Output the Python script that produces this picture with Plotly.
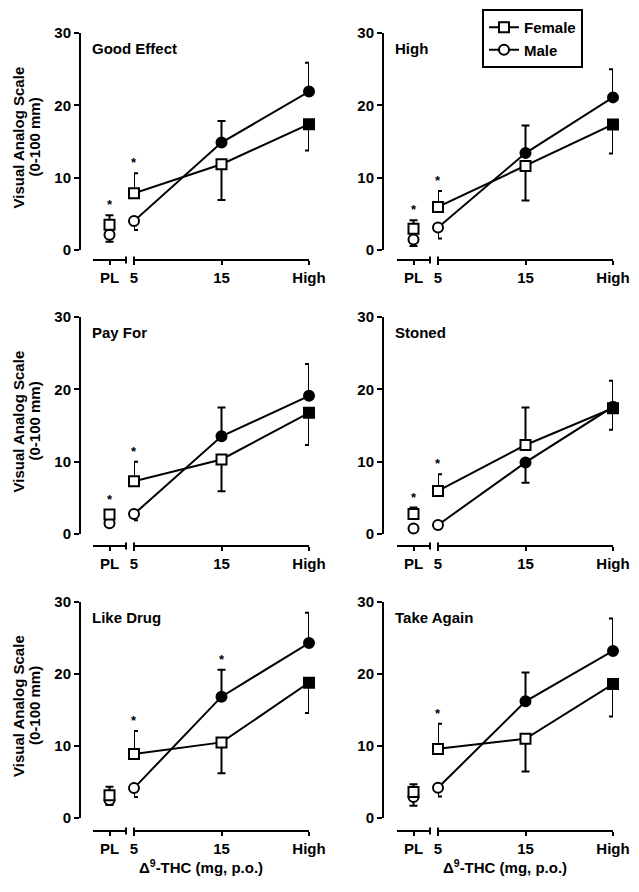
import plotly.graph_objects as go

W, H = 639, 892
FONT = "Liberation Sans, Arial, sans-serif"

# ---------------- data ----------------
dose_labels = ["PL", "5", "15", "High"]
panel_titles = ["Good Effect", "High", "Pay For", "Stoned", "Like Drug", "Take Again"]

# means and SEM, order: PL, 5, 15, High
good_effect_f = [3.5, 7.85, 11.85, 17.4]
good_effect_f_sem = [1.3, 2.75, 4.95, 3.65]
good_effect_m = [2.1, 4.0, 14.85, 21.9]
good_effect_m_sem = [0.95, 1.25, 3.0, 4.0]

high_f = [2.95, 5.95, 11.6, 17.35]
high_f_sem = [1.15, 2.2, 4.75, 4.0]
high_m = [1.45, 3.1, 13.4, 21.1]
high_m_sem = [0.9, 1.5, 3.8, 3.9]

pay_for_f = [2.7, 7.3, 10.3, 16.75]
pay_for_f_sem = [0.6, 2.7, 4.4, 4.45]
pay_for_m = [1.5, 2.75, 13.5, 19.1]
pay_for_m_sem = [0.4, 0.85, 4.0, 4.4]

stoned_f = [2.75, 5.95, 12.3, 17.4]
stoned_f_sem = [0.9, 2.3, 5.2, 3.0]
stoned_m = [0.75, 1.25, 9.9, 17.6]
stoned_m_sem = [0.3, 0.4, 2.8, 3.6]

like_drug_f = [3.15, 8.9, 10.5, 18.8]
like_drug_f_sem = [1.2, 3.2, 4.3, 4.2]
like_drug_m = [2.5, 4.15, 16.85, 24.3]
like_drug_m_sem = [0.7, 1.25, 3.75, 4.2]

take_again_f = [3.6, 9.6, 11.0, 18.6]
take_again_f_sem = [1.1, 3.5, 4.55, 4.5]
take_again_m = [2.9, 4.2, 16.2, 23.2]
take_again_m_sem = [1.2, 1.2, 4.0, 4.5]

# significance asterisks (female vs male) per panel
good_effect_sig = ["PL", "5"]
high_sig = ["PL", "5"]
pay_for_sig = ["PL", "5"]
stoned_sig = ["PL", "5"]
like_drug_sig = ["5", "15"]
take_again_sig = ["5"]

# filled symbol = significantly different from placebo
female_filled = [False, False, False, True]
male_filled = [False, False, True, True]

panels = [
    (good_effect_f, good_effect_f_sem, good_effect_m, good_effect_m_sem, good_effect_sig),
    (high_f, high_f_sem, high_m, high_m_sem, high_sig),
    (pay_for_f, pay_for_f_sem, pay_for_m, pay_for_m_sem, pay_for_sig),
    (stoned_f, stoned_f_sem, stoned_m, stoned_m_sem, stoned_sig),
    (like_drug_f, like_drug_f_sem, like_drug_m, like_drug_m_sem, like_drug_sig),
    (take_again_f, take_again_f_sem, take_again_m, take_again_m_sem, take_again_sig),
]

# ---------------- geometry (pixels) ----------------
col_yaxis = [80, 383]
col_pl = [(93, 126), (397, 430)]
col_main = [(134, 309), (438, 613)]
row_top = [33, 317, 602]
row_bot = [250, 534, 818]
row_xline = [260, 546, 831]

fig = go.Figure()
layout = {}
annotations = []
shapes = []

tickfont = dict(family=FONT, size=15, color="black", weight="bold")
axis_common = dict(showline=True, linecolor="black", linewidth=2, ticks="outside",
                   tickwidth=2, tickcolor="black", showgrid=False, zeroline=False,
                   tickfont=tickfont, fixedrange=True, automargin=False)

def px(x):
    return x / W

def py(y):
    return 1 - y / H

for i, (fm, fs, mm, ms, sig) in enumerate(panels):
    r, c = divmod(i, 2)
    yid = i + 1
    xm_id = 2 * i + 1
    xp_id = 2 * i + 2
    ysfx = "" if yid == 1 else str(yid)
    xmsfx = "" if xm_id == 1 else str(xm_id)
    xpsfx = str(xp_id)

    layout["yaxis" + ysfx] = dict(domain=[py(row_bot[r]), py(row_top[r])], range=[0, 30],
                                  anchor="free", position=px(col_yaxis[c]),
                                  tickvals=[0, 10, 20, 30], ticklen=5, **axis_common)
    layout["xaxis" + xmsfx] = dict(domain=[px(col_main[c][0]), px(col_main[c][1])], range=[0, 2],
                                   anchor="free", position=py(row_xline[r]),
                                   tickvals=[0, 1, 2], ticktext=dose_labels[1:], ticklen=4,
                                   **axis_common)
    layout["xaxis" + xpsfx] = dict(domain=[px(col_pl[c][0]), px(col_pl[c][1])], range=[-1, 1],
                                   anchor="free", position=py(row_xline[r]),
                                   tickvals=[0], ticktext=dose_labels[:1], ticklen=4,
                                   **axis_common)

    # error direction: higher series gets the upper bar
    f_up = [s if f >= m else 0 for f, m, s in zip(fm, mm, fs)]
    f_dn = [0 if f >= m else s for f, m, s in zip(fm, mm, fs)]
    m_up = [s if m > f else 0 for f, m, s in zip(fm, mm, ms)]
    m_dn = [0 if m > f else s for f, m, s in zip(fm, mm, ms)]

    series = [
        ("Male", "circle", mm, m_up, m_dn, male_filled, 2),
        ("Female", "square", fm, f_up, f_dn, female_filled, 1),
    ]
    for name, sym, vals, up, dn, filled, rank in series:
        colors = ["black" if f else "white" for f in filled]
        common = dict(mode="lines+markers", cliponaxis=False,
                      line=dict(color="black", width=2),
                      yaxis="y" + ysfx, name=name)
        # main doses
        fig.add_trace(go.Scatter(
            x=[0, 1, 2], y=vals[1:],
            error_y=dict(type="data", symmetric=False, array=up[1:], arrayminus=dn[1:],
                         color="black", thickness=2, width=4),
            marker=dict(symbol=sym, size=10, color=colors[1:], line=dict(color="black", width=2)),
            xaxis="x" + xmsfx, showlegend=(i == 0), legendrank=rank, **common))
        # placebo
        fig.add_trace(go.Scatter(
            x=[0], y=vals[:1],
            error_y=dict(type="data", symmetric=False, array=up[:1], arrayminus=dn[:1],
                         color="black", thickness=2, width=4),
            marker=dict(symbol=sym, size=10, color=colors[:1], line=dict(color="black", width=2)),
            xaxis="x" + xpsfx, showlegend=False, **common))

    # asterisks
    for d in sig:
        k = dose_labels.index(d)
        top = max(fm[k] + f_up[k], mm[k] + m_up[k])
        if k == 0:
            xref, xv = "x" + xpsfx, 0
        else:
            xref, xv = "x" + xmsfx, k - 1
        annotations.append(dict(x=xv, y=top, xref=xref, yref="y" + ysfx, text="*",
                                showarrow=False, yanchor="bottom", yshift=1,
                                font=dict(family=FONT, size=13, color="black", weight="bold")))

    # panel title
    annotations.append(dict(x=px(col_yaxis[c] + 10), y=1 - 15 / (row_bot[r] - row_top[r]),
                            xref="paper", yref="y" + ysfx + " domain", text=panel_titles[i],
                            showarrow=False, xanchor="left", yanchor="middle",
                            font=dict(family=FONT, size=15, color="black", weight="bold")))

    # axis break caps
    for xcap in (col_pl[c][1], col_main[c][0]):
        shapes.append(dict(type="line", xref="paper", yref="paper",
                           x0=px(xcap), x1=px(xcap),
                           y0=py(row_xline[r] + 3.5), y1=py(row_xline[r] - 3.5),
                           line=dict(color="black", width=2)))

    # y title for left column
    if c == 0:
        ymid = (row_top[r] + row_bot[r]) / 2 - 4
        annotations.append(dict(x=px(18), y=py(ymid), xref="paper", yref="paper",
                                text="Visual Analog Scale", textangle=-90, showarrow=False,
                                xanchor="center", yanchor="middle",
                                font=dict(family=FONT, size=15, color="black", weight="bold")))
        annotations.append(dict(x=px(34), y=py(ymid), xref="paper", yref="paper",
                                text="(0-100 mm)", textangle=-90, showarrow=False,
                                xanchor="center", yanchor="middle",
                                font=dict(family=FONT, size=15, color="black", weight="bold")))
    # x title for bottom row
    if r == 2:
        xmid = (col_pl[c][0] + col_main[c][1]) / 2
        annotations.append(dict(x=px(xmid), y=py(866), xref="paper", yref="paper",
                                text="Δ<sup>9</sup>-THC (mg, p.o.)", showarrow=False,
                                xanchor="center", yanchor="middle",
                                font=dict(family=FONT, size=15, color="black", weight="bold")))

layout.update(dict(
    width=W, height=H, autosize=False,
    margin=dict(l=0, r=0, t=0, b=0, pad=0, autoexpand=False),
    paper_bgcolor="white", plot_bgcolor="white",
    font=dict(family=FONT, size=15, color="black"),
    showlegend=True,
    legend=dict(x=px(482), y=py(9), xanchor="left", yanchor="top",
                bordercolor="black", borderwidth=2, bgcolor="white",
                font=dict(family=FONT, size=15, color="black", weight="bold"),
                tracegroupgap=0),
    annotations=annotations, shapes=shapes,
))
fig.update_layout(layout)
fig.write_html("out.html",
               config={"displayModeBar": False, "staticPlot": True},
               post_script="document.body.style.margin='0px';document.body.style.padding='0px';")
